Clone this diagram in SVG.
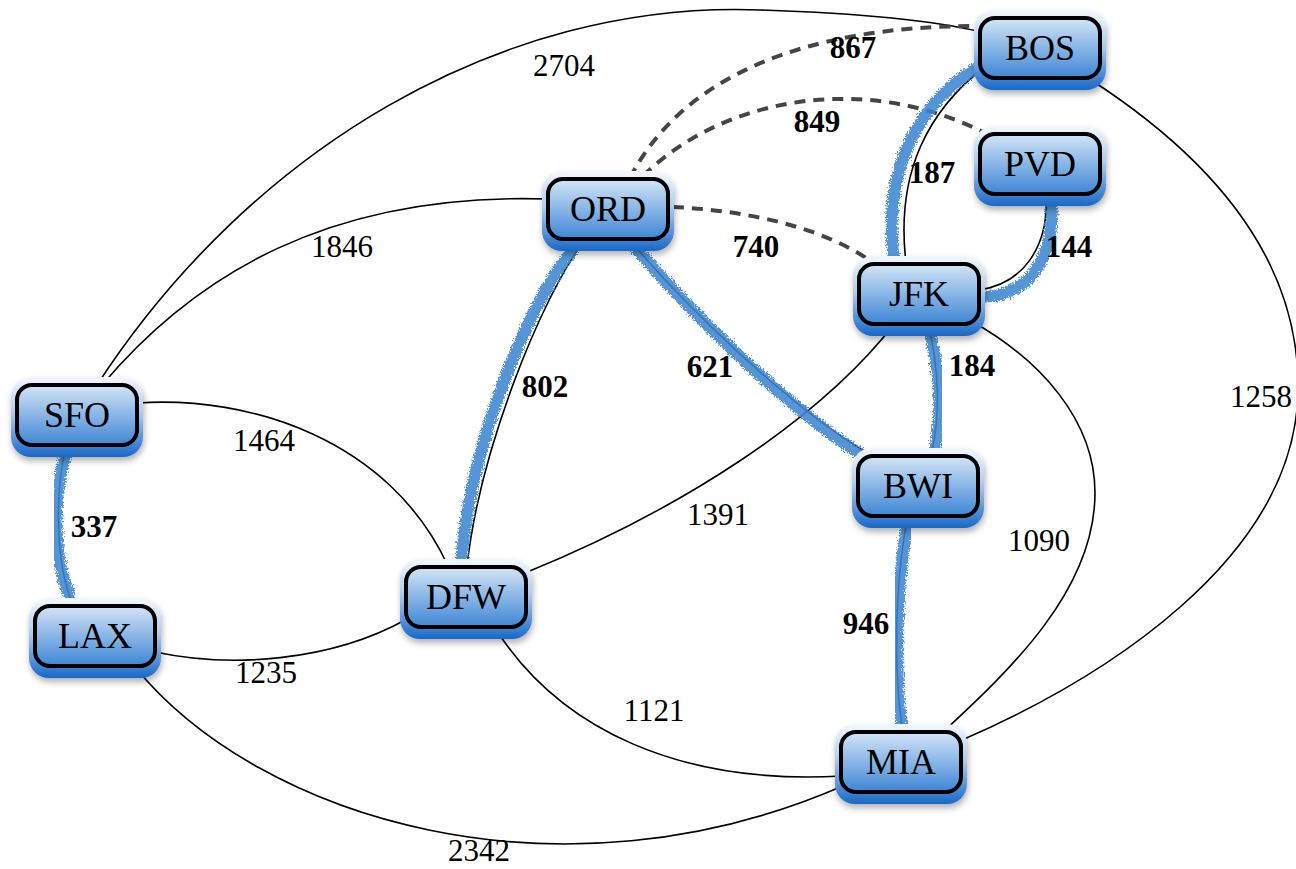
<svg xmlns="http://www.w3.org/2000/svg" width="1296" height="869" viewBox="0 0 1296 869">
<defs>
<linearGradient id="gOuter" x1="0" y1="0" x2="0" y2="1">
<stop offset="0" stop-color="#f4f8fd"/>
<stop offset="0.45" stop-color="#aecbee"/>
<stop offset="1" stop-color="#1868c8"/>
</linearGradient>
<linearGradient id="gInner" x1="0" y1="0" x2="0" y2="1">
<stop offset="0" stop-color="#d4e5f7"/>
<stop offset="1" stop-color="#3e86d5"/>
</linearGradient>
<filter id="shadow" x="-20%" y="-20%" width="140%" height="150%">
<feDropShadow dx="1" dy="4" stdDeviation="3" flood-color="#000" flood-opacity="0.3"/>
</filter>
<filter id="rough" x="-15%" y="-15%" width="130%" height="130%">
<feTurbulence type="fractalNoise" baseFrequency="0.7" numOctaves="2" seed="3" result="n"/>
<feDisplacementMap in="SourceGraphic" in2="n" scale="8" xChannelSelector="R" yChannelSelector="G"/>
</filter>
</defs>
<style>
.e{fill:none;stroke:#000;stroke-width:1.6}
.d{fill:none;stroke:#454545;stroke-width:4;stroke-dasharray:11 8}
.hl{fill:none;stroke:#3d86d2;stroke-width:12;stroke-linecap:round;filter:url(#rough);opacity:0.88}
.lbl{font-family:"Liberation Serif","Times New Roman",serif;font-size:31px;text-anchor:middle;fill:#000}
.b{font-weight:bold}
.outer{fill:url(#gOuter);filter:url(#shadow)}
.inner{fill:url(#gInner);stroke:#000;stroke-width:4}
.nt{font-family:"Liberation Serif","Times New Roman",serif;font-size:36px;text-anchor:middle;fill:#000}
</style>
<rect width="1296" height="869" fill="#fff"/>
<g id="connectors">
<path class="e" d="M97,385 C250,150 500,0 760,10 C880,14 940,22 981,32"/>
<path class="e" d="M102,385 C195,275 330,192 548,199"/>
<path class="e" d="M137,403 C250,395 390,440 448,566"/>
<path class="e" d="M155,652 C230,668 330,662 407,619"/>
<path class="e" d="M135,667 C260,820 560,910 845,785"/>
<path class="e" d="M525,573 C680,510 820,420 895,323"/>
<path class="e" d="M495,628 C560,730 680,785 842,776"/>
<path class="e" d="M973,322 C1040,360 1095,420 1095,493 C1095,590 1010,670 943,732"/>
<path class="e" d="M1088,78 C1200,150 1300,250 1298,390 C1296,560 1100,680 962,740"/>
<path class="d" d="M630,178 C680,80 800,25 981,26"/>
<path class="d" d="M643,176 C720,100 860,70 985,133"/>
<path class="d" d="M673,207 C740,210 820,225 872,262"/>
<path class="e" d="M66,447 C55,490 55,560 72,603"/>
<path class="hl" d="M68,449 C52,490 52,560 72,601"/>
<path class="e" d="M585,239 C540,300 480,450 467,566"/>
<path class="hl" d="M579,242 C528,300 468,450 461,566"/>
<path class="e" d="M628,238 C680,300 780,400 870,455"/>
<path class="hl" d="M630,241 C682,303 780,403 866,458"/>
<path class="e" d="M984,67 C930,110 895,170 906,263"/>
<path class="hl" d="M984,64 C918,100 882,170 894,262"/>
<path class="e" d="M1046,192 C1050,250 1020,285 978,290"/>
<path class="hl" d="M1051,194 C1057,262 1026,297 980,297"/>
<path class="e" d="M928,324 C940,370 940,420 931,455"/>
<path class="hl" d="M927,326 C942,370 942,420 934,453"/>
<path class="e" d="M908,515 C895,580 893,670 903,733"/>
<path class="hl" d="M909,517 C896,580 894,670 902,731"/>
<text class="lbl" x="564" y="76">2704</text>
<text class="lbl" x="342" y="257">1846</text>
<text class="lbl" x="264" y="451">1464</text>
<text class="lbl" x="718" y="525">1391</text>
<text class="lbl" x="1039" y="551">1090</text>
<text class="lbl" x="1261" y="407">1258</text>
<text class="lbl" x="266" y="683">1235</text>
<text class="lbl" x="654" y="721">1121</text>
<text class="lbl" x="479" y="861">2342</text>
<text class="lbl b" x="853" y="58">867</text>
<text class="lbl b" x="817" y="132">849</text>
<text class="lbl b" x="932" y="183">187</text>
<text class="lbl b" x="1069" y="257">144</text>
<text class="lbl b" x="756" y="257">740</text>
<text class="lbl b" x="545" y="397">802</text>
<text class="lbl b" x="710" y="377">621</text>
<text class="lbl b" x="972" y="376">184</text>
<text class="lbl b" x="94" y="537">337</text>
<text class="lbl b" x="866" y="634">946</text>
</g>
<g id="BOS"><rect class="outer" x="974" y="10" width="132" height="80" rx="20"/><rect class="inner" x="980" y="18" width="120" height="60" rx="15"/><text class="nt" x="1040" y="60">BOS</text></g>
<g id="PVD"><rect class="outer" x="974" y="126" width="132" height="80" rx="20"/><rect class="inner" x="980" y="134" width="120" height="60" rx="15"/><text class="nt" x="1040" y="176">PVD</text></g>
<g id="ORD"><rect class="outer" x="542" y="171" width="132" height="80" rx="20"/><rect class="inner" x="548" y="179" width="120" height="60" rx="15"/><text class="nt" x="608" y="221">ORD</text></g>
<g id="JFK"><rect class="outer" x="853" y="256" width="132" height="80" rx="20"/><rect class="inner" x="859" y="264" width="120" height="60" rx="15"/><text class="nt" x="919" y="306">JFK</text></g>
<g id="SFO"><rect class="outer" x="11" y="377" width="132" height="80" rx="20"/><rect class="inner" x="17" y="385" width="120" height="60" rx="15"/><text class="nt" x="77" y="427">SFO</text></g>
<g id="BWI"><rect class="outer" x="852" y="448" width="132" height="80" rx="20"/><rect class="inner" x="858" y="456" width="120" height="60" rx="15"/><text class="nt" x="918" y="498">BWI</text></g>
<g id="LAX"><rect class="outer" x="29" y="598" width="132" height="80" rx="20"/><rect class="inner" x="35" y="606" width="120" height="60" rx="15"/><text class="nt" x="95" y="648">LAX</text></g>
<g id="DFW"><rect class="outer" x="400" y="559" width="132" height="80" rx="20"/><rect class="inner" x="406" y="567" width="120" height="60" rx="15"/><text class="nt" x="466" y="609">DFW</text></g>
<g id="MIA"><rect class="outer" x="835" y="724" width="132" height="80" rx="20"/><rect class="inner" x="841" y="732" width="120" height="60" rx="15"/><text class="nt" x="901" y="774">MIA</text></g>
</svg>
